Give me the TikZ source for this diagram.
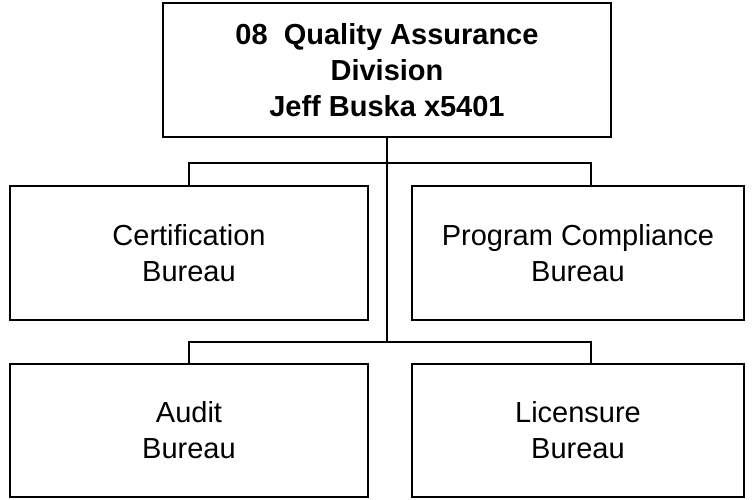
\documentclass[tikz,border=0pt]{standalone}
\usepackage{fontspec}
\setmainfont{Liberation Sans}
\begin{document}
\begin{tikzpicture}[x=1pt,y=-1pt,
  box/.style={draw=black, line width=1.4pt, fill=white, inner sep=0pt, align=center,
    font=\fontsize{29}{36}\selectfont},
  conn/.style={draw=black, line width=1.4pt}]
\useasboundingbox (0,0) rectangle (756,499);
\node[box, minimum width=448pt, minimum height=134pt, font=\fontsize{29}{36}\selectfont\bfseries] (top) at (387,70)
  {08\ \ Quality Assurance\\Division\\Jeff Buska x5401};
\node[box, minimum width=358pt, minimum height=134pt] (cert) at (189,253) {Certification\\Bureau};
\node[box, minimum width=332pt, minimum height=134pt] (pcb) at (578,253) {Program Compliance\\Bureau};
\node[box, minimum width=358pt, minimum height=133pt] (audit) at (189,430.5) {Audit\\Bureau};
\node[box, minimum width=332pt, minimum height=133pt] (lic) at (578,430.5) {Licensure\\Bureau};
\coordinate (j1) at (top.south |- 0,163);
\coordinate (j2) at (top.south |- 0,342);
\coordinate (r1) at (591,163);
\coordinate (r2) at (591,342);
\draw[conn] (top.south) -- (j2);
\draw[conn] (cert.north) |- (j1) -- (r1) -- (r1 |- pcb.north);
\draw[conn] (audit.north) |- (j2) -- (r2) -- (r2 |- lic.north);
\end{tikzpicture}
\end{document}
